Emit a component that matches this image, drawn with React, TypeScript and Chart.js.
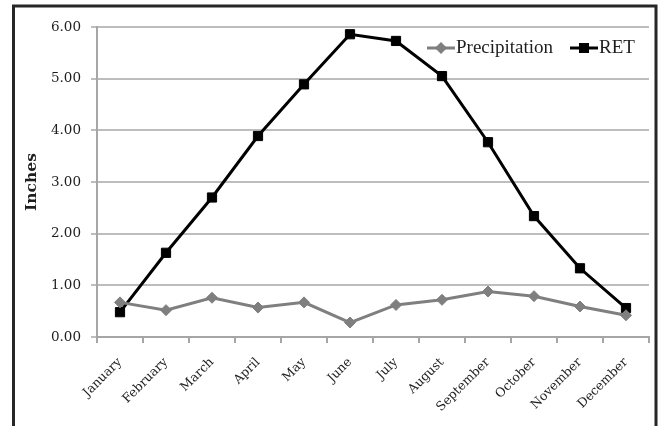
import React, { useEffect, useRef } from "react";
import { Chart, registerables } from "chart.js";

Chart.register(...registerables);

const months = [
  "January", "February", "March", "April", "May", "June",
  "July", "August", "September", "October", "November", "December",
];
const precipitation = [0.67, 0.52, 0.76, 0.57, 0.67, 0.28, 0.62, 0.72, 0.88, 0.79, 0.59, 0.42];
const ret = [0.48, 1.63, 2.70, 3.89, 4.89, 5.86, 5.73, 5.05, 3.77, 2.34, 1.33, 0.56];
const yTickValues = [0, 1, 2, 3, 4, 5, 6];
const yTitle = "Inches";

const PRECIP_COLOR = "#7f7f7f";
const RET_COLOR = "#000000";
const TEXT_COLOR = "#1e1e1e";
const GRID_COLOR = "#bdbdbd";
const AXIS_COLOR = "#a6a6a6";

const framePlugin = {
  id: "frame",
  beforeDraw(chart: any) {
    const ctx = chart.ctx;
    ctx.save();
    ctx.fillStyle = "#ffffff";
    ctx.fillRect(0, 0, chart.width, chart.height);
    ctx.strokeStyle = "#262626";
    ctx.lineWidth = 3;
    ctx.beginPath();
    ctx.moveTo(13.5, chart.height + 10);
    ctx.lineTo(13.5, 6);
    ctx.lineTo(656, 6);
    ctx.lineTo(656, chart.height + 10);
    ctx.stroke();
    ctx.restore();
  },
};

const legendPlugin = {
  id: "customLegend",
  afterDraw(chart: any) {
    const ctx = chart.ctx;
    const ds = chart.data.datasets;
    ctx.save();
    ctx.font = '19px "Liberation Serif"';
    ctx.textBaseline = "middle";
    ctx.textAlign = "left";
    const y = 48;
    const items = [
      { x: 427, ds: ds[0] },
      { x: 570, ds: ds[1] },
    ];
    items.forEach((it) => {
      const color = it.ds.borderColor;
      ctx.strokeStyle = color;
      ctx.fillStyle = color;
      ctx.lineWidth = 3;
      ctx.beginPath();
      ctx.moveTo(it.x, y);
      ctx.lineTo(it.x + 28, y);
      ctx.stroke();
      const cx = it.x + 14;
      ctx.beginPath();
      if (it.ds.pointStyle === "rectRot") {
        const r = 6;
        ctx.moveTo(cx, y - r);
        ctx.lineTo(cx + r, y);
        ctx.lineTo(cx, y + r);
        ctx.lineTo(cx - r, y);
        ctx.closePath();
      } else {
        ctx.rect(cx - 5, y - 5, 10, 10);
      }
      ctx.fill();
      ctx.fillStyle = TEXT_COLOR;
      ctx.fillText(it.ds.label, it.x + 29, y);
    });
    ctx.restore();
  },
};

export default function App() {
  const canvasRef = useRef<HTMLCanvasElement | null>(null);

  useEffect(() => {
    if (!canvasRef.current) return;
    const chart = new Chart(canvasRef.current, {
      type: "line",
      data: {
        labels: months,
        datasets: [
          {
            label: "Precipitation",
            data: precipitation,
            borderColor: PRECIP_COLOR,
            backgroundColor: PRECIP_COLOR,
            borderWidth: 3,
            pointStyle: "rectRot",
            pointRadius: 5.5,
            pointBorderWidth: 1,
            pointBackgroundColor: PRECIP_COLOR,
            pointBorderColor: PRECIP_COLOR,
            tension: 0,
          },
          {
            label: "RET",
            data: ret,
            borderColor: RET_COLOR,
            backgroundColor: RET_COLOR,
            borderWidth: 3,
            pointStyle: "rect",
            pointRadius: 6.5,
            pointBorderWidth: 1,
            pointBackgroundColor: RET_COLOR,
            pointBorderColor: RET_COLOR,
            tension: 0,
          },
        ],
      },
      options: {
        responsive: false,
        animation: false,
        devicePixelRatio: 1,
        layout: { padding: { top: 27, right: 10, left: 0, bottom: 0 } },
        plugins: {
          legend: { display: false },
          tooltip: { enabled: false },
          title: { display: false },
        },
        scales: {
          x: {
            type: "category",
            offset: true,
            grid: {
              display: true,
              drawOnChartArea: false,
              drawTicks: true,
              tickLength: 6,
              color: AXIS_COLOR,
              lineWidth: 2,
              offset: true,
            },
            border: { display: true, color: AXIS_COLOR, width: 2 },
            ticks: {
              minRotation: 45,
              maxRotation: 45,
              autoSkip: false,
              padding: 12,
              color: TEXT_COLOR,
              font: { family: "DejaVu Serif", size: 12.5 },
            },
            afterFit: (s: any) => {
              s.height = 89;
            },
          },
          y: {
            min: 0,
            max: 6,
            afterBuildTicks: (s: any) => {
              s.ticks = yTickValues.map((v) => ({ value: v }));
            },
            grid: {
              color: GRID_COLOR,
              lineWidth: 2,
              drawTicks: true,
              tickLength: 6,
            },
            border: { display: true, color: AXIS_COLOR, width: 2 },
            ticks: {
              padding: 10,
              color: TEXT_COLOR,
              font: { family: "DejaVu Serif", size: 13.5 },
              callback: (v: any) => Number(v).toFixed(2),
            },
            title: {
              display: true,
              text: yTitle,
              color: TEXT_COLOR,
              font: { family: "DejaVu Serif", size: 15.5, weight: "bold" },
              padding: { top: 23, bottom: 0 },
            },
            afterFit: (s: any) => {
              s.width = 97;
            },
          },
        },
      },
      plugins: [framePlugin, legendPlugin],
    });
    return () => chart.destroy();
  }, []);

  return (
    <div style={{ position: "absolute", left: 0, top: 0, width: 659, height: 426 }}>
      <canvas ref={canvasRef} width={659} height={426} />
    </div>
  );
}
